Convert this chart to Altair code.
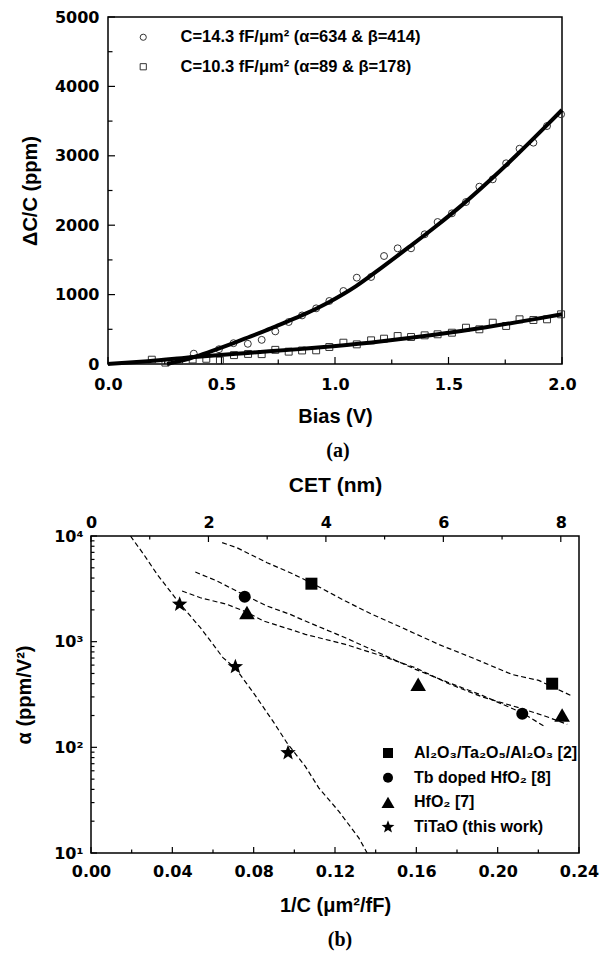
import altair as alt
import pandas as pd

# ---------------- Panel (a): dC/C vs bias ----------------
series_a = ["C=14.3 fF/μm² (α=634 & β=414)", "C=10.3 fF/μm² (α=89 & β=178)"]

bias_143 = [0.378, 0.489, 0.553, 0.616, 0.677, 0.737, 0.796, 0.855, 0.917, 0.975,
            1.037, 1.096, 1.159, 1.216, 1.276, 1.335, 1.395, 1.452, 1.515, 1.577,
            1.636, 1.695, 1.754, 1.813, 1.874, 1.934, 1.996]
dcc_143 = [149, 213, 300, 291, 348, 470, 605, 700, 802, 908,
           1052, 1244, 1254, 1556, 1667, 1667, 1869, 2046, 2171, 2334,
           2555, 2661, 2892, 3102, 3189, 3429, 3598]
bias_103 = [0.193, 0.253, 0.313, 0.373, 0.433, 0.493, 0.555, 0.617, 0.677, 0.737,
            0.796, 0.855, 0.917, 0.975, 1.037, 1.096, 1.159, 1.216, 1.276, 1.335,
            1.395, 1.452, 1.515, 1.577, 1.636, 1.695, 1.754, 1.813, 1.874, 1.934, 1.996]
dcc_103 = [62, 20, 45, 65, 75, 50, 128, 145, 142, 204,
           178, 195, 197, 245, 307, 283, 341, 365, 403, 389,
           413, 428, 451, 523, 500, 595, 548, 644, 634, 644, 716]

fit_bias_143 = [0.26, 0.33, 0.40, 0.49, 0.553, 0.616, 0.677, 0.737, 0.796, 0.858,
                0.917, 0.975, 1.037, 1.093, 1.21, 1.328, 1.445, 1.563, 1.68, 1.797,
                1.915, 2.0]
fit_dcc_143 = [0, 52, 122, 225, 302, 382, 460, 538, 620, 708,
               797, 893, 1008, 1123, 1400, 1690, 1985, 2300, 2640, 3000,
               3380, 3660]
fit_bias_103 = [0.0, 0.175, 0.395, 0.616, 0.858, 1.004, 1.225, 1.445, 1.665, 1.886, 2.0]
fit_dcc_103 = [0, 40, 105, 160, 218, 258, 335, 425, 530, 650, 716]

a_x_labels = [0.0, 0.5, 1.0, 1.5, 2.0]
a_x_minor = [0.25, 0.75, 1.25, 1.75]
a_y_labels = [0, 1000, 2000, 3000, 4000, 5000]
a_y_minor = [500, 1500, 2500, 3500, 4500]

# ---------------- Panel (b): alpha vs 1/C ----------------
series_b = ["Al₂O₃/Ta₂O₅/Al₂O₃ [2]", "Tb doped HfO₂ [8]", "HfO₂ [7]", "TiTaO (this work)"]

pt_invc_al = [0.1084, 0.2268]
pt_alpha_al = [3537, 400]
pt_invc_tb = [0.0756, 0.2121]
pt_alpha_tb = [2661, 208]
pt_invc_hf = [0.0767, 0.1609, 0.2317]
pt_alpha_hf = [1879, 394, 202]
pt_invc_ti = [0.0436, 0.0710, 0.0969]
pt_alpha_ti = [2255, 579, 88.7]

ln_invc_al = [0.0645, 0.0718, 0.0866, 0.098, 0.1084, 0.1251, 0.1383, 0.153, 0.171,
              0.1875, 0.2071, 0.2202, 0.2367]
ln_alpha_al = [8650, 7740, 5590, 4490, 3600, 2422, 1811, 1356, 942, 704, 489, 430, 305]
ln_invc_tb = [0.0513, 0.062, 0.0756, 0.0866, 0.098, 0.1054, 0.1251, 0.1432, 0.1596,
              0.176, 0.1924, 0.2121, 0.2227]
ln_alpha_tb = [4560, 3750, 2750, 2173, 1811, 1567, 1089, 759, 547, 409, 310, 212, 159]
ln_invc_hf = [0.0448, 0.0538, 0.0669, 0.0767, 0.0849, 0.098, 0.1054, 0.1251, 0.1432,
              0.1596, 0.176, 0.1924, 0.2104, 0.2235, 0.2342]
ln_alpha_hf = [3013, 2606, 2254, 1900, 1567, 1306, 1173, 942, 731, 566, 400, 300, 237, 197, 165]
ln_invc_ti = [0.0194, 0.0259, 0.0325, 0.0436, 0.0538, 0.0603, 0.0649, 0.071, 0.080,
              0.0898, 0.0964, 0.1054, 0.112, 0.1218, 0.1317, 0.1358]
ln_alpha_ti = [10000, 6710, 4340, 2300, 1355, 929, 705, 560, 326, 173, 110, 66, 41.4,
               24.9, 13.9, 10]

b_x_labels = [0.0, 0.04, 0.08, 0.12, 0.16, 0.20, 0.24]
b_x_minor = [0.02, 0.06, 0.10, 0.14, 0.18, 0.22]
b_y_values = [10, 100, 1000, 10000]
b_y_labels = ["10¹", "10²", "10³", "10⁴"]
b_y_minor = [20, 30, 40, 50, 60, 70, 80, 90, 200, 300, 400, 500, 600, 700, 800, 900,
             2000, 3000, 4000, 5000, 6000, 7000, 8000, 9000]
cet_labels = [0, 2, 4, 6, 8]
cet_minor = [1, 3, 5, 7]
cet_max = 8.31

# ---------------- tables ----------------
def frame(xs, ys, name, xk, yk):
    return pd.DataFrame({xk: xs, yk: ys, "series": name})

df_a_pts = pd.concat([frame(bias_143, dcc_143, series_a[0], "bias", "dcc"),
                      frame(bias_103, dcc_103, series_a[1], "bias", "dcc")])
df_a_fit = pd.concat([frame(fit_bias_143, fit_dcc_143, series_a[0], "bias", "dcc"),
                      frame(fit_bias_103, fit_dcc_103, series_a[1], "bias", "dcc")])
df_b_pts = pd.concat([frame(pt_invc_al, pt_alpha_al, series_b[0], "invc", "alpha"),
                      frame(pt_invc_tb, pt_alpha_tb, series_b[1], "invc", "alpha"),
                      frame(pt_invc_hf, pt_alpha_hf, series_b[2], "invc", "alpha"),
                      frame(pt_invc_ti, pt_alpha_ti, series_b[3], "invc", "alpha")])
df_b_ln = pd.concat([frame(ln_invc_al, ln_alpha_al, series_b[0], "invc", "alpha"),
                     frame(ln_invc_tb, ln_alpha_tb, series_b[1], "invc", "alpha"),
                     frame(ln_invc_hf, ln_alpha_hf, series_b[2], "invc", "alpha"),
                     frame(ln_invc_ti, ln_alpha_ti, series_b[3], "invc", "alpha")])

LABEL_FONT = "DejaVu Sans"
TEXT_FONT = "Liberation Sans"

# ---------------- panel (a) ----------------
W_A, H_A = 454, 347
xs_a = alt.Scale(domain=[0, 2], nice=False)
ys_a = alt.Scale(domain=[0, 5000], nice=False)
AX_A_X = alt.Axis(values=a_x_labels, format=".1f", labelPadding=12, labelFlush=False,
                  title="Bias (V)", titlePadding=14)
AX_A_Y = alt.Axis(values=a_y_labels, format="d", labelPadding=9,
                  title="ΔC/C (ppm)", titlePadding=14)

pts_a = alt.Chart(df_a_pts).mark_point(size=48, filled=False, color="#333", strokeWidth=1,
                                       opacity=1).encode(
    x=alt.X("bias:Q", scale=xs_a, axis=AX_A_X),
    y=alt.Y("dcc:Q", scale=ys_a, axis=AX_A_Y),
    shape=alt.Shape("series:N", scale=alt.Scale(domain=series_a, range=["circle", "square"]),
                    legend=alt.Legend(title=None, orient="none", legendX=27, legendY=12,
                                      labelFont=TEXT_FONT, labelFontWeight="bold",
                                      labelFontSize=16.5, labelColor="black", labelOffset=29,
                                      rowPadding=12.5, symbolSize=38, symbolStrokeColor="#333",
                                      symbolStrokeWidth=1, padding=0, labelLimit=500)),
)

fit_a = alt.Chart(df_a_fit).mark_line(color="black", strokeWidth=4, interpolate="monotone").encode(
    x=alt.X("bias:Q", scale=xs_a, axis=AX_A_X),
    y=alt.Y("dcc:Q", scale=ys_a, axis=AX_A_Y),
    detail="series:N",
)

def xticks(vals, field, scale, axis, length, H):
    return alt.Chart(pd.DataFrame({field: vals})).mark_rule(color="black", strokeWidth=1.2).encode(
        x=alt.X(f"{field}:Q", scale=scale, axis=axis),
        y=alt.value(H), y2=alt.value(H - length))

def yticks(vals, field, scale, axis, length):
    return alt.Chart(pd.DataFrame({field: vals})).mark_rule(color="black", strokeWidth=1.2).encode(
        y=alt.Y(f"{field}:Q", scale=scale, axis=axis),
        x=alt.value(0), x2=alt.value(length))

lbl_a = alt.Chart(pd.DataFrame({"t": ["(a)"]})).mark_text(
    font="Liberation Serif", fontWeight="bold", fontSize=20, color="black",
    align="center", baseline="middle").encode(text="t:N", x=alt.value(230), y=alt.value(434))

top = alt.layer(
    pts_a, fit_a,
    xticks(a_x_labels, "bias", xs_a, AX_A_X, 7, H_A),
    xticks(a_x_minor, "bias", xs_a, AX_A_X, 4.5, H_A),
    yticks(a_y_labels, "dcc", ys_a, AX_A_Y, 7),
    yticks(a_y_minor, "dcc", ys_a, AX_A_Y, 4.5),
    lbl_a,
).properties(width=W_A, height=H_A)

# ---------------- panel (b) ----------------
W_B, H_B = 488, 317
xs_b = alt.Scale(domain=[0, 0.24], nice=False)
ys_b = alt.Scale(type="log", domain=[10, 10000], nice=False)
label_expr = " : ".join(f"datum.value == {v} ? '{l}'" for v, l in zip(b_y_values, b_y_labels)) + " : ''"
AX_B_X = alt.Axis(values=b_x_labels, format=".2f", labelPadding=10, labelFlush=False,
                  title="1/C (μm²/fF)", titlePadding=16)
AX_B_Y = alt.Axis(values=b_y_values, labelExpr=label_expr, labelPadding=8,
                  title="α (ppm/V²)", titlePadding=19)

TRI = "M0,-1.15L1.3,1.1L-1.3,1.1Z"
STAR = ("M0,-1.35L0.3333,-0.4587L1.284,-0.4172L0.5393,0.1752L0.7935,1.0922L0,0.567"
        "L-0.7935,1.0922L-0.5393,0.1752L-1.284,-0.4172L-0.3333,-0.4587Z")

ln_b = alt.Chart(df_b_ln).mark_line(color="black", strokeWidth=1.2, strokeDash=[5, 3],
                                    clip=True).encode(
    x=alt.X("invc:Q", scale=xs_b, axis=AX_B_X),
    y=alt.Y("alpha:Q", scale=ys_b, axis=AX_B_Y),
    detail="series:N",
)

pts_b = alt.Chart(df_b_pts).mark_point(filled=True, color="black", size=144, opacity=1).encode(
    x=alt.X("invc:Q", scale=xs_b, axis=AX_B_X),
    y=alt.Y("alpha:Q", scale=ys_b, axis=AX_B_Y),
    shape=alt.Shape("series:N",
                    scale=alt.Scale(domain=series_b, range=["square", "circle", TRI, STAR]),
                    legend=alt.Legend(title=None, orient="none", legendX=289, legendY=209,
                                      labelFont=TEXT_FONT, labelFontWeight="bold",
                                      labelFontSize=16, labelColor="black", labelOffset=18,
                                      rowPadding=8.7, symbolSize=100, symbolFillColor="black",
                                      symbolStrokeColor="black", symbolStrokeWidth=0,
                                      padding=0, labelLimit=500)),
)

lbl_b = alt.Chart(pd.DataFrame({"t": ["(b)"]})).mark_text(
    font="Liberation Serif", fontWeight="bold", fontSize=20, color="black",
    align="center", baseline="middle").encode(text="t:N", x=alt.value(249), y=alt.value(404))

main_b = alt.layer(
    ln_b, pts_b,
    xticks(b_x_labels, "invc", xs_b, AX_B_X, 6, H_B),
    xticks(b_x_minor, "invc", xs_b, AX_B_X, 3.5, H_B),
    yticks(b_y_values, "alpha", ys_b, AX_B_Y, 6),
    yticks(b_y_minor, "alpha", ys_b, AX_B_Y, 3.5),
    lbl_b,
)

cs = alt.Scale(domain=[0, cet_max], nice=False)
AX_CET = alt.Axis(orient="top", values=cet_labels, format="d", labelPadding=6,
                  labelFlush=False, title="CET (nm)", titlePadding=19, titleFontSize=21)
cet_axis = alt.Chart(pd.DataFrame({"cet": cet_labels})).mark_point(opacity=0).encode(
    x=alt.X("cet:Q", scale=cs, axis=AX_CET),
    y=alt.value(0),
)

def cet_ticks(vals, length):
    return alt.Chart(pd.DataFrame({"cet": vals})).mark_rule(color="black", strokeWidth=1.2).encode(
        x=alt.X("cet:Q", scale=cs, axis=AX_CET), y=alt.value(0), y2=alt.value(length))

cet_b = alt.layer(cet_axis, cet_ticks(cet_labels, 6), cet_ticks(cet_minor, 3.5))

bottom = alt.layer(main_b, cet_b).resolve_scale(x="independent").properties(width=W_B, height=H_B)

chart = alt.vconcat(top, bottom, spacing=172, bounds="flush", center=True).resolve_scale(
    shape="independent"
).configure_view(
    stroke="black", strokeWidth=1.5
).configure_axis(
    labelFont=LABEL_FONT, labelFontSize=16, labelFontWeight="bold", labelColor="black",
    titleFont=TEXT_FONT, titleFontSize=20, titleFontWeight="bold", titleColor="black",
    domain=False, ticks=False, tickSize=0, grid=False,
).properties(padding={"left": 5, "top": 0, "right": 2, "bottom": 0})

chart.save("out.html", embed_options={"renderer": "svg", "actions": False})
